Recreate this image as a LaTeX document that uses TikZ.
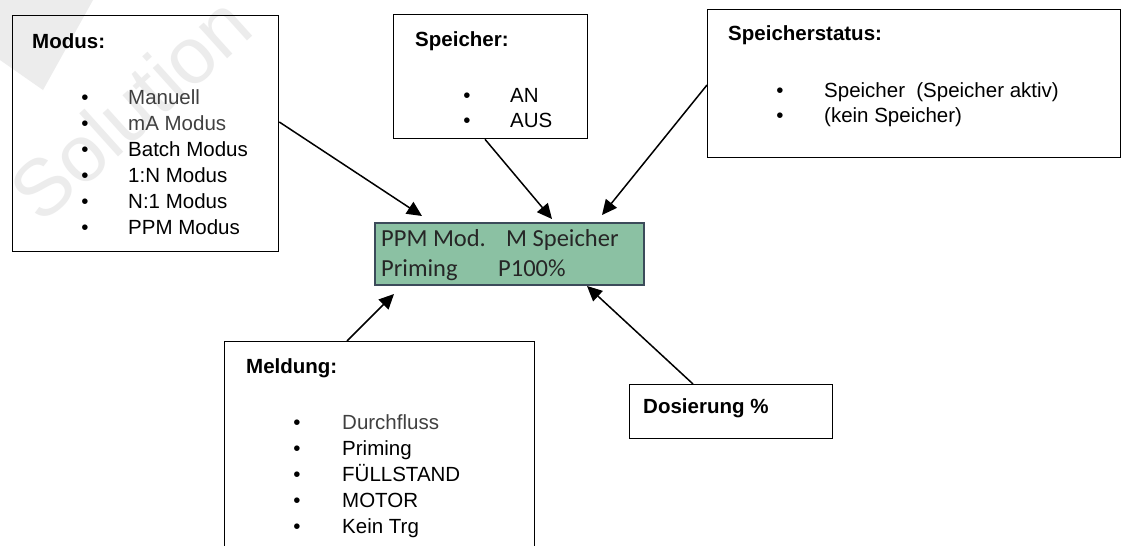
\documentclass[tikz,border=0pt]{standalone}
\usepackage{fontspec}
\setmainfont{Liberation Sans}
\newfontfamily\lcdfont{Carlito}
\usetikzlibrary{arrows.meta,calc}
\definecolor{lcdfill}{RGB}{139,193,163}
\definecolor{lcdline}{RGB}{60,75,90}
\definecolor{wmark}{RGB}{236,236,236}
\definecolor{soft}{RGB}{64,64,64}
\begin{document}
\begin{tikzpicture}[x=1pt,y=-1pt,
  box/.style={draw=black,line width=1.3pt,rectangle,inner sep=0pt,anchor=north west},
  lcdbox/.style={draw=lcdline,fill=lcdfill,line width=2pt,rectangle,inner sep=0pt,anchor=north west},
  ttl/.style={font=\fontsize{20.5}{24}\selectfont\bfseries,anchor=base west,inner sep=0pt},
  itm/.style={font=\fontsize{20.5}{24}\selectfont,anchor=base west,inner sep=0pt},
  bul/.style={font=\fontsize{20.5}{24}\selectfont,anchor=base,inner sep=0pt},
  lcdtxt/.style={font=\lcdfont\fontsize{24.5}{28}\selectfont,anchor=base west,inner sep=0pt,text=black!85},
  arr/.style={line width=1.5pt,-{Triangle[length=15pt,width=14pt]}}]
\useasboundingbox (0,0) rectangle (1122,546);
\clip (0,0) rectangle (1122,546);
\fill[white] (0,0) rectangle (1122,546);
% watermark
\fill[wmark] (0,0) -- (93,0) -- (43,90) -- (0,60) -- cycle;
\node[font=\fontsize{80}{90}\selectfont,text=wmark,rotate=42,inner sep=0pt] (wm) at (130,108) {Solution};
% boxes
\node[box,minimum width=266pt,minimum height=236pt] (modus) at (12,15) {};
\node[box,minimum width=194pt,minimum height=124pt] (speicher) at (393,14) {};
\node[box,minimum width=413pt,minimum height=148pt] (status) at (707,9) {};
\node[lcdbox,minimum width=269pt,minimum height=62pt] (lcd) at (374,222) {};
\node[box,minimum width=310pt,minimum height=230pt] (meldung) at (224,341) {};
\node[box,minimum width=203pt,minimum height=54pt] (dosierung) at (629,384) {};
% Modus text
\node[ttl] (modusT) at (32,48) {Modus:};
\node[bul] (mb1) at (85,104) {•}; \node[itm,text=soft] (m1) at (128,104) {Manuell};
\node[bul] (mb2) at (85,130) {•}; \node[itm,text=soft] (m2) at (128,130) {mA Modus};
\node[bul] (mb3) at (85,156) {•}; \node[itm] (m3) at (128,156) {Batch Modus};
\node[bul] (mb4) at (85,182) {•}; \node[itm] (m4) at (128,182) {1:N Modus};
\node[bul] (mb5) at (85,208) {•}; \node[itm] (m5) at (128,208) {N:1 Modus};
\node[bul] (mb6) at (85,234) {•}; \node[itm] (m6) at (128,234) {PPM Modus};
% Speicher text
\node[ttl] (speicherT) at (415,46) {Speicher:};
\node[bul] (sb1) at (467,102) {•}; \node[itm] (s1) at (510,102) {AN};
\node[bul] (sb2) at (467,127) {•}; \node[itm] (s2) at (510,127) {AUS};
% Speicherstatus text
\node[ttl] (statusT) at (728,40) {Speicherstatus:};
\node[bul] (tb1) at (780,97) {•}; \node[itm] (t1) at (824,97) {Speicher\hspace{0.55em}(Speicher aktiv)};
\node[bul] (tb2) at (780,122) {•}; \node[itm] (t2) at (824,122) {(kein Speicher)};
% LCD text
\node[lcdtxt] (l1) at (381,246) {PPM Mod.};
\node[lcdtxt] (l2) at (506,246) {M Speicher};
\node[lcdtxt] (l3) at (381,276) {Priming};
\node[lcdtxt] (l4) at (498,276) {P100\%};
% Meldung text
\node[ttl] (meldungT) at (246,373) {Meldung:};
\node[bul] (db1) at (297,429) {•}; \node[itm,text=soft] (d1) at (342,429) {Durchfluss};
\node[bul] (db2) at (297,455) {•}; \node[itm] (d2) at (342,455) {Priming};
\node[bul] (db3) at (297,481) {•}; \node[itm] (d3) at (342,481) {FÜLLSTAND};
\node[bul] (db4) at (297,507) {•}; \node[itm] (d4) at (342,507) {MOTOR};
\node[bul] (db5) at (297,533) {•}; \node[itm] (d5) at (342,533) {Kein Trg};
% Dosierung text
\node[ttl] (dosT) at (643,413) {Dosierung \%};
% arrows
\draw[arr] ($(modus.north east)+(0,107)$) -- ($(lcd.north west)+(48,-6)$);
\draw[arr] ($(speicher.south west)+(92,0)$) -- ($(lcd.north west)+(178,-3)$);
\draw[arr] ($(status.north west)+(0,76)$) -- ($(lcd.north west)+(228,-7)$);
\draw[arr] ($(meldung.north west)+(123,0)$) -- ($(lcd.south west)+(20,8)$);
\draw[arr] ($(dosierung.north west)+(64,0)$) -- ($(lcd.south west)+(213,0)$);
\end{tikzpicture}
\end{document}
